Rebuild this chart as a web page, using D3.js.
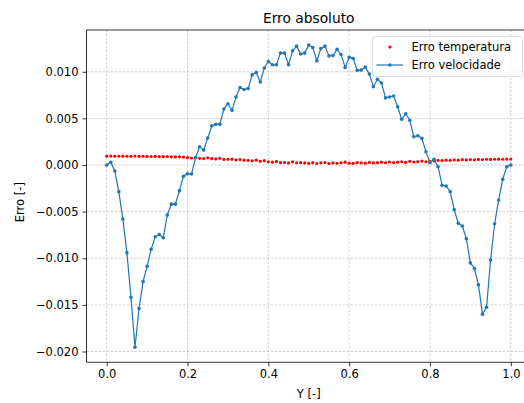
<!DOCTYPE html>
<html>
<head>
<meta charset="utf-8">
<script src="https://cdn.jsdelivr.net/npm/d3@7"></script>
<style>
  html, body { margin: 0; padding: 0; background: #fff; overflow: hidden; }
  svg { display: block; font-family: "DejaVu Sans", sans-serif; }
</style>
</head>
<body>
<svg id="chart" width="524" height="403"></svg>
<script>
// Sampling positions along Y
const posY = [
  0.00,0.01,0.02,0.03,0.04,0.05,0.06,0.07,0.08,0.09,
  0.10,0.11,0.12,0.13,0.14,0.15,0.16,0.17,0.18,0.19,
  0.20,0.21,0.22,0.23,0.24,0.25,0.26,0.27,0.28,0.29,
  0.30,0.31,0.32,0.33,0.34,0.35,0.36,0.37,0.38,0.39,
  0.40,0.41,0.42,0.43,0.44,0.45,0.46,0.47,0.48,0.49,
  0.50,0.51,0.52,0.53,0.54,0.55,0.56,0.57,0.58,0.59,
  0.60,0.61,0.62,0.63,0.64,0.65,0.66,0.67,0.68,0.69,
  0.70,0.71,0.72,0.73,0.74,0.75,0.76,0.77,0.78,0.79,
  0.80,0.81,0.82,0.83,0.84,0.85,0.86,0.87,0.88,0.89,
  0.90,0.91,0.92,0.93,0.94,0.95,0.96,0.97,0.98,0.99,
  1.00
];

// Absolute error of the temperature field
const erroTemperatura = [
  0.00095,0.00096,0.00095,0.00094,0.00095,0.00094,0.00093,0.00096,0.00093,0.00094,
  0.00092,0.00091,0.00093,0.00090,0.00089,0.00091,0.00088,0.00087,0.00088,0.00085,
  0.00080,0.00075,0.00078,0.00072,0.00070,0.00077,0.00068,0.00065,0.00072,0.00060,
  0.00062,0.00063,0.00055,0.00058,0.00052,0.00050,0.00045,0.00052,0.00040,0.00047,
  0.00035,0.00030,0.00038,0.00025,0.00028,0.00022,0.00035,0.00024,0.00025,0.00022,
  0.00018,0.00025,0.00016,0.00023,0.00027,0.00015,0.00022,0.00018,0.00024,0.00030,
  0.00020,0.00018,0.00025,0.00022,0.00020,0.00028,0.00022,0.00025,0.00030,0.00024,
  0.00032,0.00026,0.00030,0.00035,0.00028,0.00040,0.00032,0.00036,0.00042,0.00035,
  0.00040,0.00045,0.00050,0.00048,0.00052,0.00050,0.00055,0.00052,0.00057,0.00055,
  0.00058,0.00056,0.00060,0.00058,0.00062,0.00060,0.00062,0.00063,0.00062,0.00064,
  0.00064
];

// Absolute error of the velocity field
const erroVelocidade = [
  0.00000,0.00030,-0.00064,-0.00286,-0.00580,-0.00940,-0.01420,-0.01954,-0.01540,-0.01250,
  -0.01086,-0.00904,-0.00770,-0.00746,-0.00780,-0.00536,-0.00420,-0.00420,-0.00275,-0.00120,
  -0.00093,-0.00096,0.00080,0.00196,0.00160,0.00290,0.00420,0.00436,0.00436,0.00600,
  0.00657,0.00586,0.00730,0.00830,0.00810,0.00820,0.00968,0.00993,0.00890,0.01040,
  0.01110,0.01075,0.01075,0.01200,0.01200,0.01075,0.01225,0.01275,0.01190,0.01200,
  0.01286,0.01260,0.01118,0.01250,0.01275,0.01170,0.01175,0.01240,0.01186,0.01047,
  0.01154,0.01143,0.01015,0.01018,0.01050,0.00975,0.00840,0.00920,0.00880,0.00720,
  0.00730,0.00740,0.00625,0.00490,0.00550,0.00480,0.00303,0.00314,0.00286,0.00143,
  0.00025,0.00060,-0.00018,-0.00218,-0.00225,-0.00286,-0.00479,-0.00625,-0.00654,-0.00790,
  -0.01050,-0.01110,-0.01286,-0.01600,-0.01525,-0.01020,-0.00630,-0.00375,-0.00153,-0.00018,
  0.00000
];

const xTicks = [0.0, 0.2, 0.4, 0.6, 0.8, 1.0];
const yTicks = [-0.020, -0.015, -0.010, -0.005, 0.000, 0.005, 0.010];

const titulo = "Erro absoluto";
const rotuloX = "Y [-]";
const rotuloY = "Erro [-]";
const legendaTemp = "Erro temperatura";
const legendaVel = "Erro velocidade";

const corVel = "#1f77b4";
const corTemp = "#ff0000";

(function desenhar() {
  const svg = d3.select("#chart");
  const esq = 86.5, dir = 531, topo = 30, base = 362.3;

  // Auto limits with a 5% margin on each side
  function limites(vals) {
    const lo = d3.min(vals), hi = d3.max(vals), m = (hi - lo) * 0.05;
    return [lo - m, hi + m];
  }
  const x = d3.scaleLinear().domain(limites(posY)).range([esq, dir]);
  const y = d3.scaleLinear().domain(limites(erroVelocidade.concat(erroTemperatura))).range([base, topo]);

  const fontTick = 11.5;

  // Grid
  const grid = svg.append("g");
  grid.selectAll("line.gx").data(xTicks).join("line").attr("class", "gx")
    .attr("x1", d => x(d)).attr("x2", d => x(d))
    .attr("y1", topo).attr("y2", base)
    .attr("stroke", "#b0b0b0").attr("stroke-width", 0.6).attr("stroke-dasharray", "2.5,1.5");
  grid.selectAll("line.gy").data(yTicks).join("line").attr("class", "gy")
    .attr("x1", esq).attr("x2", dir)
    .attr("y1", d => y(d)).attr("y2", d => y(d))
    .attr("stroke", "#b0b0b0").attr("stroke-width", 0.6).attr("stroke-dasharray", "2.5,1.5");

  // Axes
  const xAxis = d3.axisBottom(x).tickValues(xTicks).tickFormat(d3.format(".1f")).tickSize(4).tickPadding(4);
  const yAxis = d3.axisLeft(y).tickValues(yTicks).tickFormat(d3.format(".3f")).tickSize(4).tickPadding(4);

  const gx = svg.append("g").attr("transform", `translate(0,${base})`).call(xAxis);
  const gy = svg.append("g").attr("transform", `translate(${esq},0)`).call(yAxis);
  [gx, gy].forEach(g => {
    g.select(".domain").remove();
    g.selectAll(".tick line").attr("stroke", "#000").attr("stroke-width", 0.8);
    g.selectAll(".tick text").attr("font-size", fontTick).attr("fill", "#000")
      .attr("font-family", "DejaVu Sans, sans-serif");
  });

  // Spines
  const spine = (x1, y1, x2, y2) => svg.append("line")
    .attr("x1", x1).attr("y1", y1).attr("x2", x2).attr("y2", y2)
    .attr("stroke", "#000").attr("stroke-width", 0.8);
  spine(esq, topo, esq, base);
  spine(esq, base, dir, base);
  spine(esq, topo, dir, topo);
  spine(dir, topo, dir, base);

  // Temperature error: red dots
  svg.append("g").selectAll("circle").data(erroTemperatura).join("circle")
    .attr("cx", (d, i) => x(posY[i])).attr("cy", d => y(d))
    .attr("r", 1.6).attr("fill", corTemp);

  // Velocity error: line with small markers
  const linha = d3.line().x((d, i) => x(posY[i])).y(d => y(d));
  svg.append("path").datum(erroVelocidade).attr("d", linha)
    .attr("fill", "none").attr("stroke", corVel).attr("stroke-width", 1.2);
  svg.append("g").selectAll("circle").data(erroVelocidade).join("circle")
    .attr("cx", (d, i) => x(posY[i])).attr("cy", d => y(d))
    .attr("r", 1.8).attr("fill", corVel);

  // Titles
  svg.append("text").attr("x", (esq + dir) / 2).attr("y", 23)
    .attr("text-anchor", "middle").attr("font-size", 13.8).text(titulo);
  svg.append("text").attr("x", (esq + dir) / 2).attr("y", 398)
    .attr("text-anchor", "middle").attr("font-size", fontTick).text(rotuloX);
  svg.append("text").attr("transform", `translate(24,${(topo + base) / 2 + 6}) rotate(-90)`)
    .attr("text-anchor", "middle").attr("font-size", fontTick).text(rotuloY);

  // Legend
  const lg = svg.append("g");
  lg.append("rect").attr("x", 372.5).attr("y", 36.5).attr("width", 150).attr("height", 40)
    .attr("rx", 3).attr("fill", "#fff").attr("fill-opacity", 0.8)
    .attr("stroke", "#d6d6d6").attr("stroke-width", 0.8);
  lg.append("circle").attr("cx", 390).attr("cy", 47).attr("r", 1.6).attr("fill", corTemp);
  lg.append("line").attr("x1", 376.5).attr("x2", 403).attr("y1", 65).attr("y2", 65)
    .attr("stroke", corVel).attr("stroke-width", 1.2);
  lg.append("circle").attr("cx", 389.8).attr("cy", 65).attr("r", 1.8).attr("fill", corVel);
  lg.append("text").attr("x", 411.5).attr("y", 51).attr("font-size", fontTick).text(legendaTemp);
  lg.append("text").attr("x", 411.5).attr("y", 69).attr("font-size", fontTick).text(legendaVel);
})();
</script>
</body>
</html>
